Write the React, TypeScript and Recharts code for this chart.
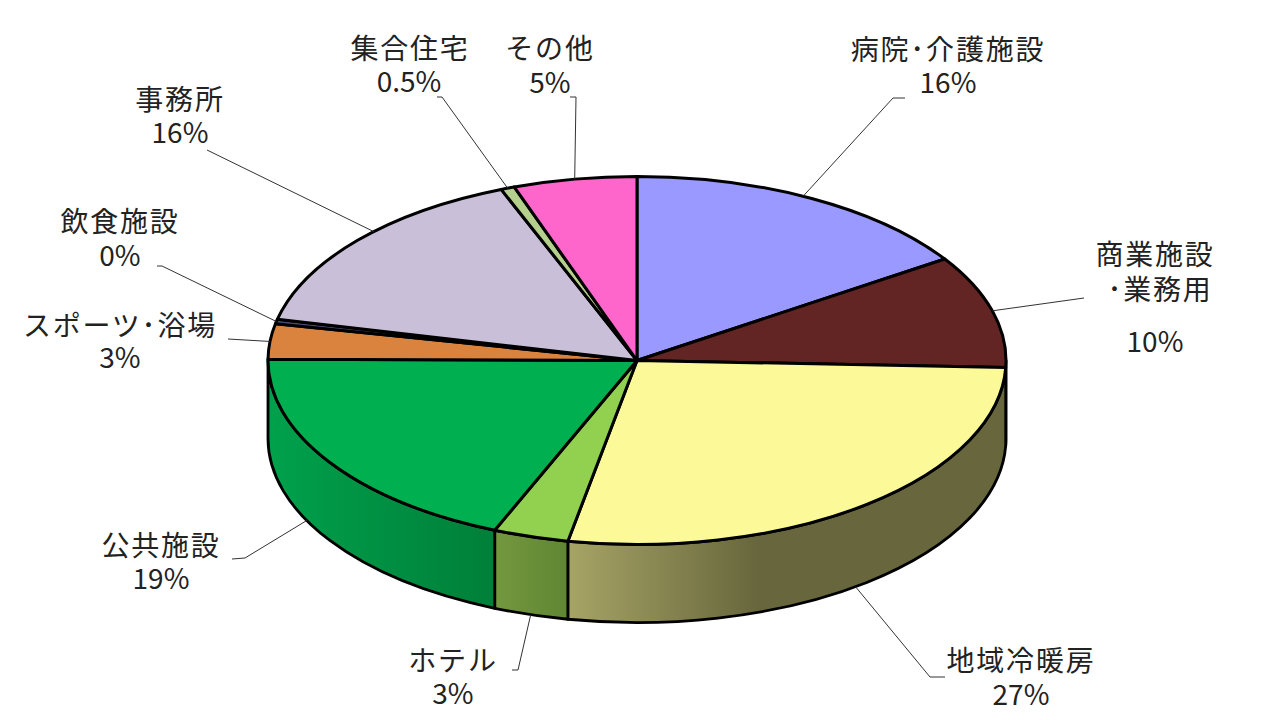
import { PieChart, Pie } from 'recharts'

const categories = ['病院･介護施設', '商業施設', '地域冷暖房', 'ホテル', '公共施設', 'スポーツ･浴場', '飲食施設', '事務所', '集合住宅', 'その他']
const shares = [15.7, 9.9, 27.4, 3.3, 18.8, 3.1, 0.4, 15.4, 0.6, 5.4]
const percentLabels = ['16%', '10%', '27%', '3%', '19%', '3%', '0%', '16%', '0.5%', '5%']
const topColors = ['#9999FF', '#632523', '#FCFA98', '#92D050', '#00B050', '#D9833F', '#4A4A7A', '#C9BFD9', '#B5CF8C', '#FF66CC']
const wallColors = ['#5C5C99', '#3B1615', 'url(#wallYellow)', 'url(#wallLime)', 'url(#wallGreen)', '#824E26', '#2C2C49', '#797382', '#6D7C54', '#993D7A']

const FONT = '"Noto Sans CJK JP", "Noto Sans", sans-serif'
const CX = 637
const CY = 360.5
const RX = 369
const RY = 184
const DEPTH = 78

const rows = categories.map((name, i) => ({ name, value: shares[i], fill: topColors[i], wallFill: wallColors[i] }))

// label text layout, one entry per slice
const labelLayout = [
  { lines: [[948, 48, 0]], pct: [948, 81], elbow: [[905, 98], [893, 98]], nudge: 1.5 },
  { lines: [[1155, 253, 0], [1160, 288, 1]], pct: [1155, 340], elbow: [[1084, 298]], nudge: 0 },
  { lines: [[1021, 659, 0]], pct: [1021, 693], elbow: [[945, 677], [930, 677]], nudge: -2.2 },
  { lines: [[453, 659, 0]], pct: [453, 692], elbow: [[512, 670], [518, 670]], nudge: 0 },
  { lines: [[161, 544, 0]], pct: [161, 577], elbow: [[232, 559], [245, 558]], nudge: -7 },
  { lines: [[120, 324, 0]], pct: [120, 356], elbow: [[228, 339]], nudge: 0 },
  { lines: [[120, 220, 0]], pct: [120, 254], elbow: [[157, 266], [162, 266]], nudge: 0 },
  { lines: [[180, 98, 0]], pct: [180, 131], elbow: [[207, 150]], nudge: -3.8 },
  { lines: [[410, 47, 0]], pct: [409, 80], elbow: [[437, 97], [442, 97]], nudge: 0 },
  { lines: [[550, 47, 0]], pct: [550, 81], elbow: [[570, 97], [576, 97]], nudge: 0 },
]

const rimPoint = (deg: number) => {
  const rad = (deg * Math.PI) / 180
  return [CX + RX * Math.cos(rad), CY - RY * Math.sin(rad)]
}

function EllipseSlice(props: any) {
  const { startAngle, endAngle, fill } = props
  const wallFill = props.wallFill ?? props.payload?.wallFill
  const [x1, y1] = rimPoint(startAngle)
  const [x2, y2] = rimPoint(endAngle)
  const large = startAngle - endAngle > 180 ? 1 : 0
  const top = `M${CX},${CY} L${x1},${y1} A${RX},${RY} 0 ${large} 1 ${x2},${y2} Z`

  // the side wall only shows on the front half of the disc
  const a = Math.min(startAngle, 0)
  const b = Math.max(endAngle, -180)
  let wall = null
  if (a > b) {
    const [wx1, wy1] = rimPoint(a)
    const [wx2, wy2] = rimPoint(b)
    wall = `M${wx1},${wy1} A${RX},${RY} 0 0 1 ${wx2},${wy2} L${wx2},${wy2 + DEPTH} A${RX},${RY} 0 0 0 ${wx1},${wy1 + DEPTH} Z`
  }

  return (
    <g>
      {wall && <path d={wall} fill={wallFill} stroke="#000" strokeWidth={2.8} strokeLinejoin="round" />}
      <path d={top} fill={fill} stroke="#000" strokeWidth={3} strokeLinejoin="round" />
    </g>
  )
}

function SliceLabel(props: any) {
  const { index, midAngle } = props
  const layout = labelLayout[index]
  const angle = midAngle + layout.nudge
  const [ex, ey] = rimPoint(angle)
  const endY = Math.sin((angle * Math.PI) / 180) < -0.05 ? ey + DEPTH : ey
  const pts = [...layout.elbow, [ex, endY]].map((p) => p.join(',')).join(' ')
  const secondLine = '･業務用'
  return (
    <g fontFamily={FONT} fontSize={28} fill="#222">
      <polyline points={pts} fill="none" stroke="#333" strokeWidth={1} />
      {layout.lines.map(([x, y, alt]) => (
        <text key={y} x={x} y={y} textAnchor="middle" dominantBaseline="central" letterSpacing={1.8}>
          {alt ? secondLine : categories[index]}
        </text>
      ))}
      <text x={layout.pct[0]} y={layout.pct[1]} textAnchor="middle" dominantBaseline="central">
        {percentLabels[index]}
      </text>
    </g>
  )
}

export default function App() {
  return (
    <div style={{ position: 'absolute', left: 0, top: 0, width: 1280, height: 720, background: '#fff' }}>
      <PieChart width={1280} height={720} margin={{ top: 0, right: 0, bottom: 0, left: 0 }}>
        <defs>
          <linearGradient id="wallGreen" gradientUnits="userSpaceOnUse" x1={268} y1={0} x2={495} y2={0}>
            <stop offset="0%" stopColor="#00A14C" />
            <stop offset="100%" stopColor="#007F39" />
          </linearGradient>
          <linearGradient id="wallLime" gradientUnits="userSpaceOnUse" x1={495} y1={0} x2={568} y2={0}>
            <stop offset="0%" stopColor="#74983F" />
            <stop offset="100%" stopColor="#5F8633" />
          </linearGradient>
          <linearGradient id="wallYellow" gradientUnits="userSpaceOnUse" x1={568} y1={0} x2={760} y2={0}>
            <stop offset="0%" stopColor="#A6A465" />
            <stop offset="100%" stopColor="#67663C" />
          </linearGradient>
        </defs>
        <Pie
          data={rows}
          dataKey="value"
          nameKey="name"
          cx={CX}
          cy={CY}
          innerRadius={0}
          outerRadius={RX}
          startAngle={90}
          endAngle={-270}
          paddingAngle={0}
          shape={EllipseSlice}
          label={SliceLabel}
          labelLine={false}
          isAnimationActive={false}
        />
      </PieChart>
    </div>
  )
}
